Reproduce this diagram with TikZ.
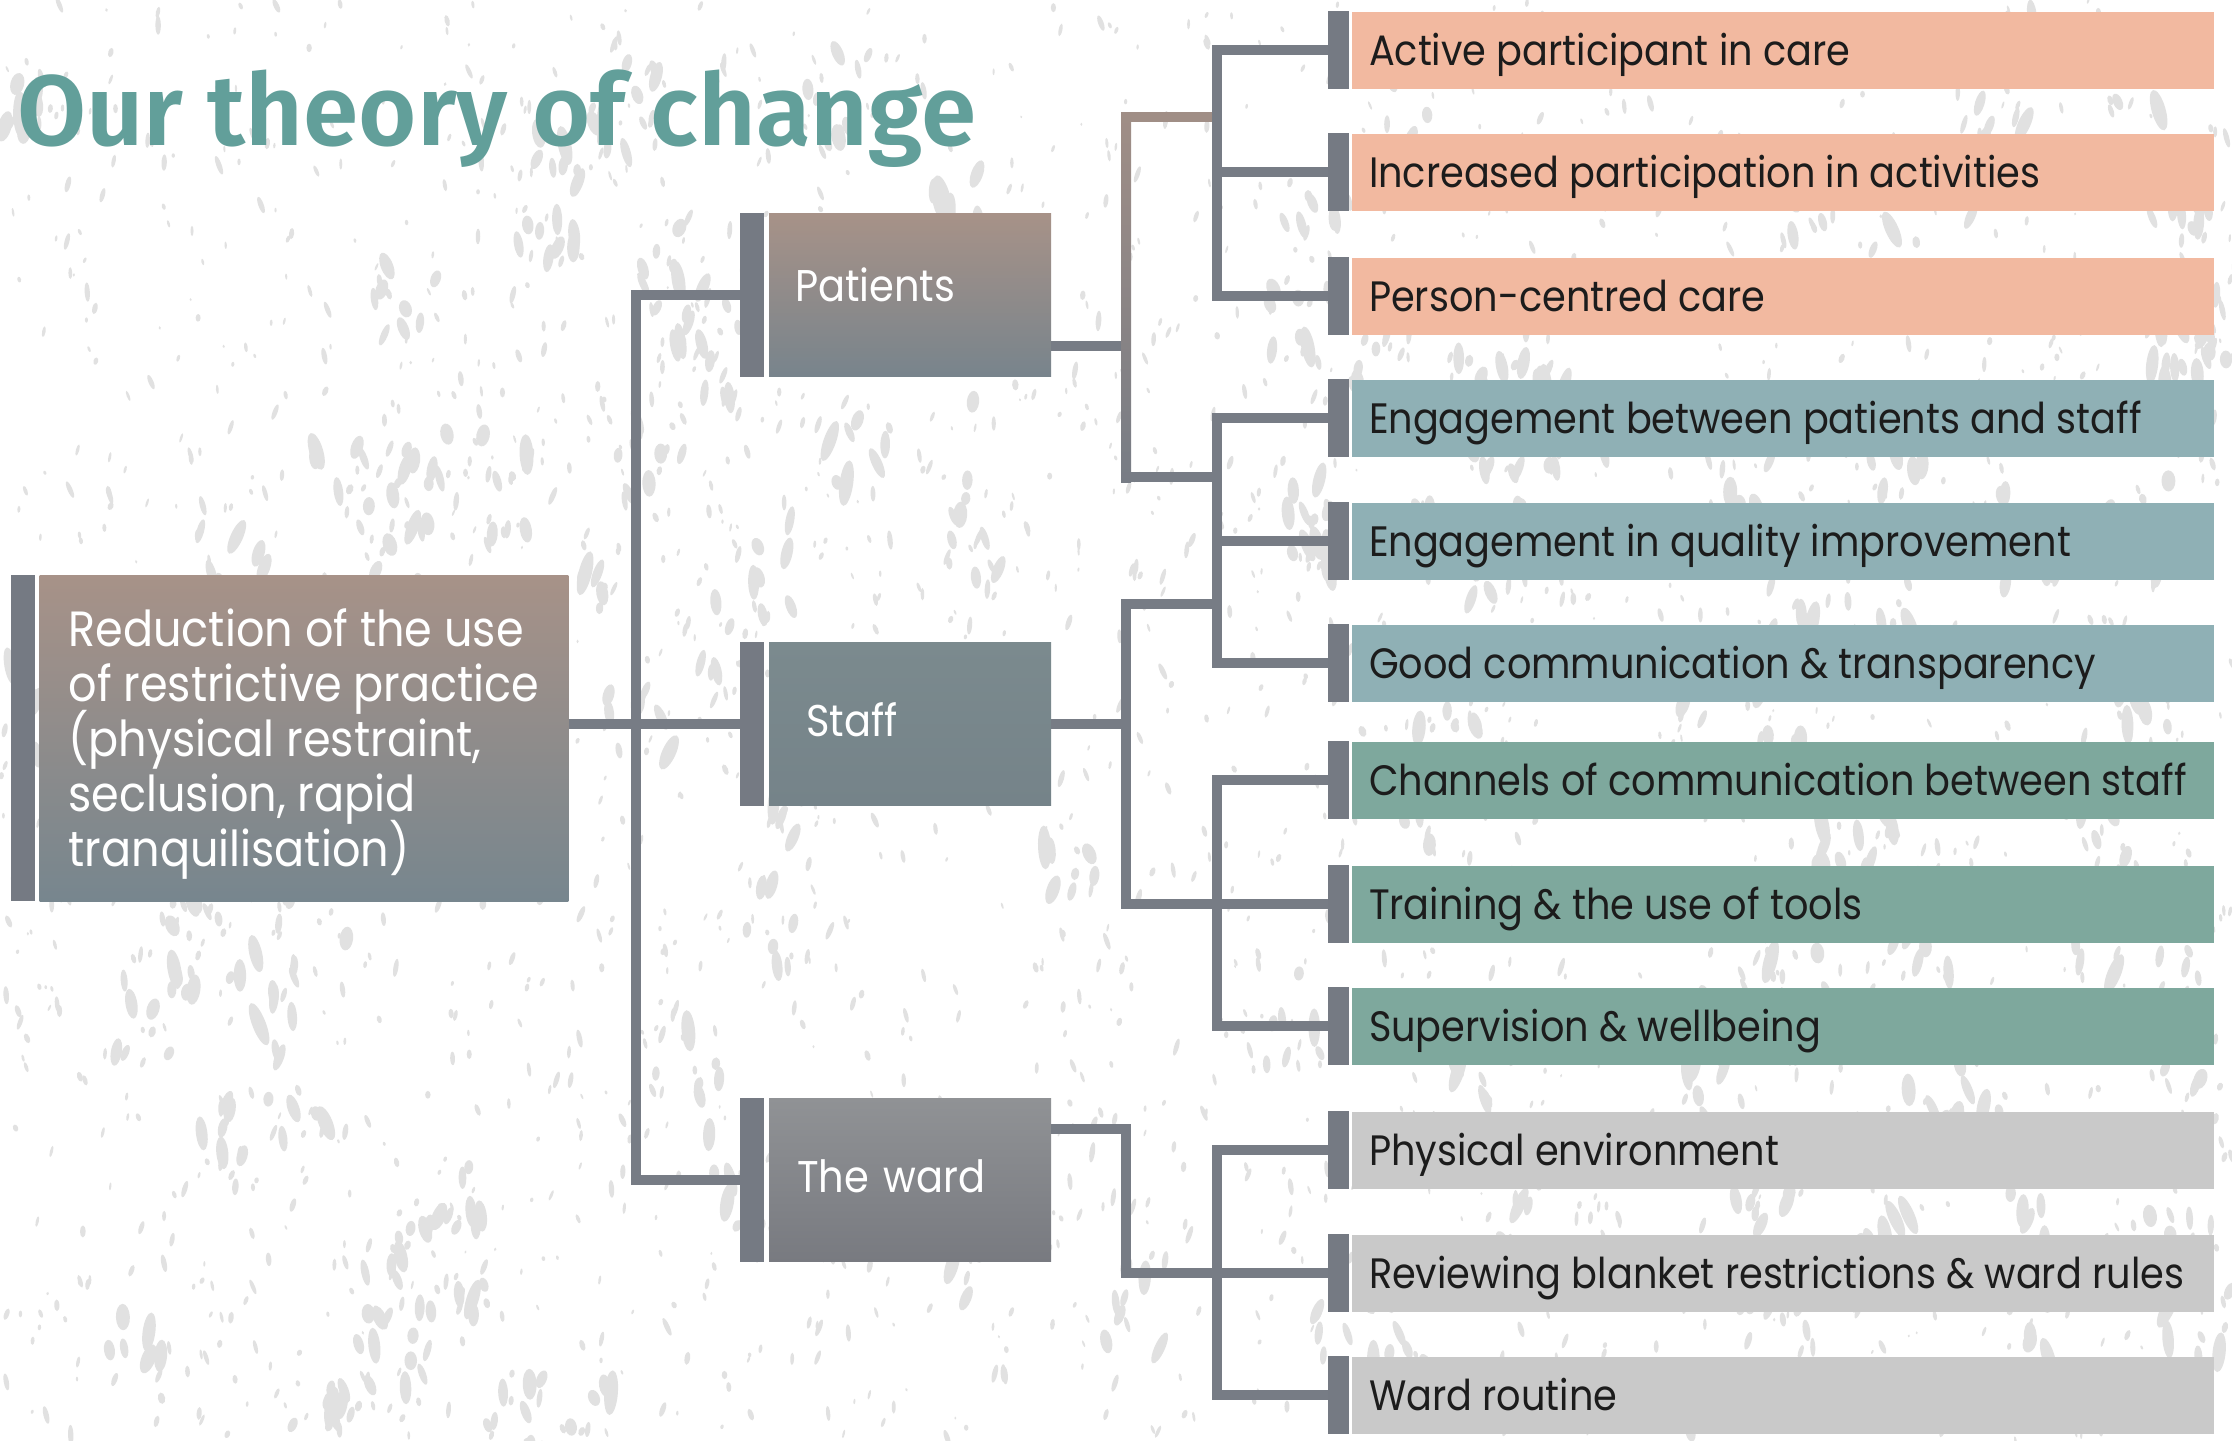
\documentclass[tikz,border=0pt]{standalone}
\usepackage{fontspec}
\setmainfont[FakeStretch=0.9]{Poppins}
\newfontfamily\titlefont[BoldFont={Fira Sans SemiBold}]{Fira Sans}
\usetikzlibrary{calc}

\definecolor{titleteal}{RGB}{98,159,154}
\definecolor{barc}{RGB}{117,122,131}
\definecolor{linec}{RGB}{119,124,133}
\definecolor{brownline}{RGB}{160,142,134}
\definecolor{salmon}{RGB}{242,185,160}
\definecolor{bluegray}{RGB}{143,176,181}
\definecolor{seagreen}{RGB}{126,168,157}
\definecolor{palegray}{RGB}{201,201,201}
\definecolor{brownt}{RGB}{167,146,136}
\definecolor{slatet}{RGB}{119,134,142}
\definecolor{spotc}{RGB}{225,225,225}
\definecolor{inktext}{RGB}{28,28,28}

\begin{document}
% keep multi-line labels on an even baseline grid
\lineskiplimit=-100pt
\begin{tikzpicture}[x=1pt,y=-1pt,
  conn/.style={draw=linec, line width=10pt},
  lbox/.style={minimum width=526pt, minimum height=326pt,
    inner xsep=29pt, inner ysep=0pt, align=left, text=white,
    font=\fontsize{49.5}{55}\selectfont, text depth=0pt},
  mbox/.style={minimum width=282pt, minimum height=163pt, inner ysep=0pt,
    align=left, text=white, font=\fontsize{44.4}{50}\selectfont,
    text height=31pt, text depth=6pt},
  rbox/.style={minimum width=862pt, minimum height=77pt,
    inner xsep=17pt, inner ysep=0pt, text=inktext,
    font=\fontsize{42.5}{48}\selectfont, text height=30pt, text depth=0pt,
    execute at begin node={\hbox to 828pt\bgroup},
    execute at end node={\hss\egroup}},
  spot/.style={fill=spotc}
]
\useasboundingbox (0,0) rectangle (2232,1440);
\fill[white] (0,0) rectangle (2232,1440);

% speckled paper texture: fine grain
\pgfmathsetseed{2024}
\foreach \i in {1,...,2200}{%
  \pgfmathsetmacro{\sx}{2232*rnd}%
  \pgfmathsetmacro{\sy}{1440*rnd}%
  \pgfmathsetmacro{\rx}{1+1.8*rnd}%
  \pgfmathsetmacro{\ry}{\rx*(1.3+2.5*rnd)}%
  \pgfmathsetmacro{\an}{-25+50*rnd}%
  \fill[spot, rotate around={\an:(\sx,\sy)}] (\sx,\sy) ellipse ({\rx pt} and {\ry pt});
}
% speckled paper texture: blotchy patches
\foreach \i in {1,...,120}{%
  \pgfmathsetmacro{\cx}{2232*rnd}%
  \pgfmathsetmacro{\cy}{1440*rnd}%
  \foreach \j in {1,...,9}{%
    \pgfmathsetmacro{\sx}{\cx+70*(rnd-0.5)}%
    \pgfmathsetmacro{\sy}{\cy+100*(rnd-0.5)}%
    \pgfmathsetmacro{\rx}{2+5*rnd}%
    \pgfmathsetmacro{\ry}{\rx*(1.4+2*rnd)}%
    \pgfmathsetmacro{\an}{-25+50*rnd}%
    \fill[spot, rotate around={\an:(\sx,\sy)}] (\sx,\sy) ellipse ({\rx pt} and {\ry pt});
  }
}

% title
\node[anchor=base west, inner sep=0pt, text=titleteal,
  font=\titlefont\bfseries\fontsize{100}{110}\selectfont] (title) at (17,145)
  {Our theory of change};

% goal
\node[lbox, top color=brownt, bottom color=slatet] (red) at (304,738)
  {Reduction of the use\\of restrictive practice\\(physical restraint,\\seclusion, rapid\\tranquilisation)};

% domains
\node[mbox, text width=230pt, inner xsep=26pt, text depth=18pt, top color=brownt,
  bottom color={rgb,255:red,120;green,132;blue,140}] (pat) at (910,295) {Patients};
\node[mbox, text width=208pt, inner xsep=37pt, top color={rgb,255:red,123;green,138;blue,142},
  bottom color={rgb,255:red,117;green,131;blue,137}] (staff) at (910,724) {Staff};
\node[mbox, text width=226pt, inner xsep=28pt, top color={rgb,255:red,144;green,146;blue,149},
  bottom color={rgb,255:red,120;green,122;blue,128}] (ward) at (910,1180) {The ward};

% outcomes
\node[rbox, fill=salmon]    (r1)  at (1783,50)   {Active participant in care};
\node[rbox, fill=salmon]    (r2)  at (1783,172)  {Increased participation in activities};
\node[rbox, fill=salmon]    (r3)  at (1783,296)  {Person-centred care};
\node[rbox, fill=bluegray]  (r4)  at (1783,418)  {Engagement between patients and staff};
\node[rbox, fill=bluegray]  (r5)  at (1783,541)  {Engagement in quality improvement};
\node[rbox, fill=bluegray]  (r6)  at (1783,663)  {Good communication \& transparency};
\node[rbox, fill=seagreen]  (r7)  at (1783,780)  {Channels of communication between staff};
\node[rbox, fill=seagreen]  (r8)  at (1783,904)  {Training \& the use of tools};
\node[rbox, fill=seagreen]  (r9)  at (1783,1026) {Supervision \& wellbeing};
\node[rbox, fill=palegray]  (r10) at (1783,1150) {Physical environment};
\node[rbox, fill=palegray]  (r11) at (1783,1273) {Reviewing blanket restrictions \& ward rules};
\node[rbox, fill=palegray]  (r12) at (1783,1395) {Ward routine};

% connector columns
\coordinate (tx) at (636,0);
\coordinate (px) at (1126,0);
\coordinate (gx) at (1217,0);

% goal to domains
\draw[conn] ([xshift=-29pt]pat.west) -| (tx |- ward.west) -- ([xshift=-29pt]ward.west);
\draw[conn] (red.east |- staff.west) -- ([xshift=-29pt]staff.west);

% patients branch
\draw[conn] (pat.east |- 0,346) -- (px |- 0,346);
\draw[conn, draw=brownline] (px |- 0,117) -- (gx |- 0,117);
\draw[conn] (px |- 0,477) -- (gx |- 0,477);
\shade[top color=brownline, bottom color=linec] (1121,112) rectangle (1131,482);

% staff branch
\draw[conn] (staff.east) -- (px |- staff.east);
\draw[conn] (gx |- 0,604) -| (px |- r8.west) -- ([xshift=-24pt]r8.west);

% ward branch
\draw[conn] (ward.east |- 0,1129) -| (px |- r11.west) -- ([xshift=-24pt]r11.west);

% outcome groups
\foreach \a/\b/\c in {r1/r2/r3, r4/r5/r6, r7/r8/r9, r10/r11/r12}{
  \draw[conn] ([xshift=-24pt]\a.west) -| (gx |- \c.west) -- ([xshift=-24pt]\c.west);
  \draw[conn] (gx |- \b.west) -- ([xshift=-24pt]\b.west);
}

% side bars
\fill[barc] ([xshift=-28pt]red.north west) rectangle ([xshift=-4pt]red.south west);
\foreach \n in {pat,staff,ward}
  \fill[barc] ([xshift=-29pt]\n.north west) rectangle ([xshift=-5pt]\n.south west);
\foreach \n in {r1,r2,r3,r4,r5,r6,r7,r8,r9,r10,r11,r12}
  \fill[barc] ([xshift=-24pt]\n.north west) rectangle ([xshift=-3pt]\n.south west);
\end{tikzpicture}
\end{document}
